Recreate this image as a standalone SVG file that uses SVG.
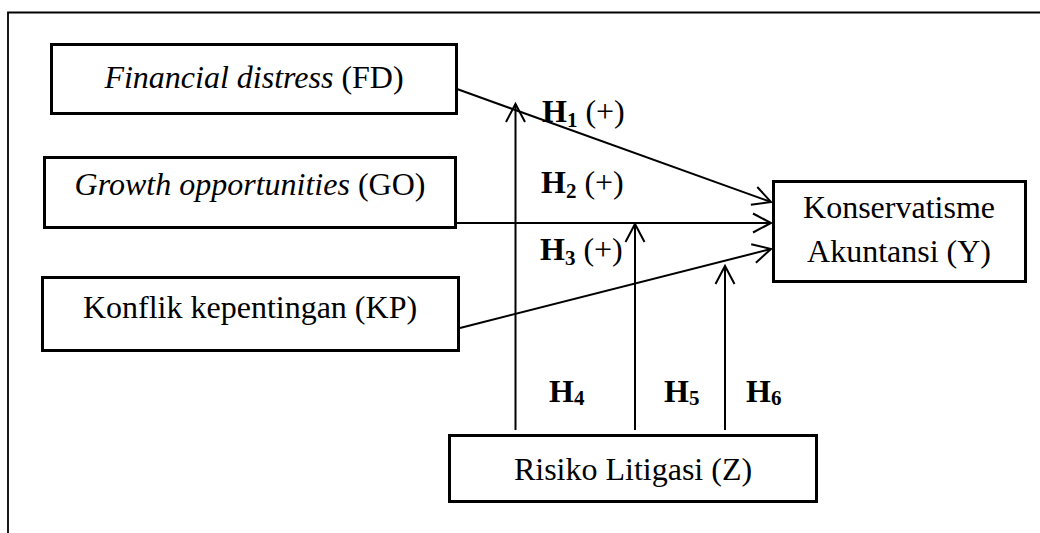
<svg xmlns="http://www.w3.org/2000/svg" width="1040" height="533" viewBox="0 0 1040 533">
<style>
.box{fill:#fff;stroke:#000;stroke-width:3}
.t{font-family:"Liberation Serif","Times New Roman",serif;font-size:32px;fill:#000}
.it{font-style:italic}
.h{font-family:"Liberation Serif","Times New Roman",serif;font-size:32px;font-weight:bold;fill:#000}
.sub{font-size:21px}
.pm{font-weight:normal}
.c{fill:none;stroke:#000;stroke-width:2}
</style>
<defs>
<marker id="arr" markerUnits="userSpaceOnUse" viewBox="-20 -11 22 22" refX="0" refY="0" markerWidth="22" markerHeight="22" orient="auto" overflow="visible">
<path d="M-18,-9.5 L0,0 L-18,9.5" fill="none" stroke="#000" stroke-width="2"/>
</marker>
</defs>
<rect width="1040" height="533" fill="#fff"/>
<path d="M8,533 V12.5 H1040" fill="none" stroke="#000" stroke-width="1.8"/>
<g id="connectors">
<line class="c" x1="457" y1="89" x2="771" y2="202" marker-end="url(#arr)"/>
<line class="c" x1="456" y1="223" x2="771" y2="223" marker-end="url(#arr)"/>
<line class="c" x1="460" y1="328" x2="771" y2="249" marker-end="url(#arr)"/>
<line class="c" x1="515.5" y1="430" x2="515.5" y2="104" marker-end="url(#arr)"/>
<line class="c" x1="635" y1="430" x2="635" y2="224" marker-end="url(#arr)"/>
<line class="c" x1="725" y1="430" x2="725" y2="266" marker-end="url(#arr)"/>
</g>
<g id="node-fd">
<rect class="box" x="51.5" y="44.5" width="405" height="69"/>
<text class="t" x="254" y="88" text-anchor="middle"><tspan class="it">Financial distress</tspan> (FD)</text>
</g>
<g id="node-go">
<rect class="box" x="44.5" y="157.5" width="411" height="70"/>
<text class="t" x="250" y="195" text-anchor="middle"><tspan class="it">Growth opportunities</tspan> (GO)</text>
</g>
<g id="node-kp">
<rect class="box" x="42.5" y="277.5" width="416" height="73"/>
<text class="t" x="250" y="318" text-anchor="middle">Konflik kepentingan (KP)</text>
</g>
<g id="node-y">
<rect class="box" x="773.5" y="181.5" width="252" height="100"/>
<text class="t" x="899" y="218" text-anchor="middle">Konservatisme</text>
<text class="t" x="899" y="262" text-anchor="middle">Akuntansi (Y)</text>
</g>
<g id="node-z">
<rect class="box" x="449.5" y="435.5" width="367" height="66"/>
<text class="t" x="633" y="480" text-anchor="middle">Risiko Litigasi (Z)</text>
</g>
<g id="labels">
<text class="h" x="542" y="122">H<tspan class="sub" dy="5">1</tspan><tspan class="pm" dy="-5"> (+)</tspan></text>
<text class="h" x="541" y="193">H<tspan class="sub" dy="5">2</tspan><tspan class="pm" dy="-5"> (+)</tspan></text>
<text class="h" x="540" y="260">H<tspan class="sub" dy="5">3</tspan><tspan class="pm" dy="-5"> (+)</tspan></text>
<text class="h" x="549" y="402">H<tspan class="sub" dy="3">4</tspan></text>
<text class="h" x="664" y="402">H<tspan class="sub" dy="3">5</tspan></text>
<text class="h" x="746" y="402">H<tspan class="sub" dy="3">6</tspan></text>
</g>
</svg>
